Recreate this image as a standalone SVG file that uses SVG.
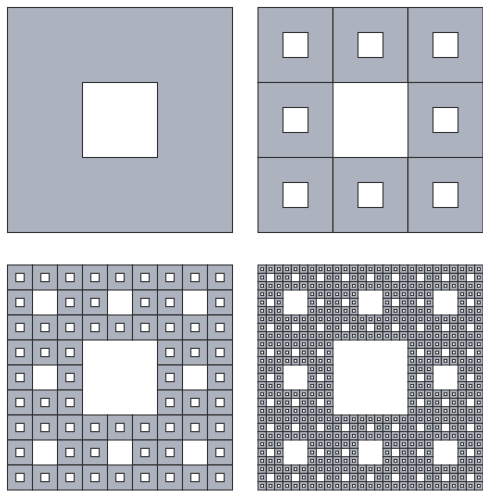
<svg xmlns="http://www.w3.org/2000/svg" xmlns:xlink="http://www.w3.org/1999/xlink" width="483" height="491" viewBox="0 0 483 491">
<style>
.f{fill:#adb2bf;stroke:#333333;stroke-width:1.1}
.h{fill:#ffffff;stroke:#333333;stroke-width:1.1}
.t{stroke-width:1}
</style>
<defs>
<g id="A225"><rect class="f" width="225" height="225"/><rect class="h" x="75" y="75" width="75" height="75"/></g>
<g id="A75"><rect class="f" width="75" height="75"/><rect class="h" x="25" y="25" width="25" height="25"/></g>
<g id="A25"><rect class="f" width="25" height="25"/><rect class="h" x="8.333" y="8.333" width="8.333" height="8.333"/></g>
<g id="A8"><rect class="f t" width="8.333" height="8.333"/><rect class="h t" x="2.778" y="2.778" width="2.778" height="2.778"/></g>
<g id="B75">
<use xlink:href="#A25" x="0" y="0"/><use xlink:href="#A25" x="25" y="0"/><use xlink:href="#A25" x="50" y="0"/>
<use xlink:href="#A25" x="0" y="25"/><use xlink:href="#A25" x="50" y="25"/>
<use xlink:href="#A25" x="0" y="50"/><use xlink:href="#A25" x="25" y="50"/><use xlink:href="#A25" x="50" y="50"/>
</g>
<g id="C25">
<use xlink:href="#A8" x="0" y="0"/><use xlink:href="#A8" x="8.333" y="0"/><use xlink:href="#A8" x="16.667" y="0"/>
<use xlink:href="#A8" x="0" y="8.333"/><use xlink:href="#A8" x="16.667" y="8.333"/>
<use xlink:href="#A8" x="0" y="16.667"/><use xlink:href="#A8" x="8.333" y="16.667"/><use xlink:href="#A8" x="16.667" y="16.667"/>
</g>
<g id="C75">
<use xlink:href="#C25" x="0" y="0"/><use xlink:href="#C25" x="25" y="0"/><use xlink:href="#C25" x="50" y="0"/>
<use xlink:href="#C25" x="0" y="25"/><use xlink:href="#C25" x="50" y="25"/>
<use xlink:href="#C25" x="0" y="50"/><use xlink:href="#C25" x="25" y="50"/><use xlink:href="#C25" x="50" y="50"/>
</g>
</defs>
<g id="level1" transform="translate(7.5,7.5)">
<use xlink:href="#A225"/>
</g>
<g id="level2" transform="translate(258,7.5)">
<use xlink:href="#A75" x="0" y="0"/><use xlink:href="#A75" x="75" y="0"/><use xlink:href="#A75" x="150" y="0"/>
<use xlink:href="#A75" x="0" y="75"/><use xlink:href="#A75" x="150" y="75"/>
<use xlink:href="#A75" x="0" y="150"/><use xlink:href="#A75" x="75" y="150"/><use xlink:href="#A75" x="150" y="150"/>
</g>
<g id="level3" transform="translate(7.5,265)">
<use xlink:href="#B75" x="0" y="0"/><use xlink:href="#B75" x="75" y="0"/><use xlink:href="#B75" x="150" y="0"/>
<use xlink:href="#B75" x="0" y="75"/><use xlink:href="#B75" x="150" y="75"/>
<use xlink:href="#B75" x="0" y="150"/><use xlink:href="#B75" x="75" y="150"/><use xlink:href="#B75" x="150" y="150"/>
</g>
<g id="level4" transform="translate(258,265)">
<use xlink:href="#C75" x="0" y="0"/><use xlink:href="#C75" x="75" y="0"/><use xlink:href="#C75" x="150" y="0"/>
<use xlink:href="#C75" x="0" y="75"/><use xlink:href="#C75" x="150" y="75"/>
<use xlink:href="#C75" x="0" y="150"/><use xlink:href="#C75" x="75" y="150"/><use xlink:href="#C75" x="150" y="150"/>
</g>
</svg>
